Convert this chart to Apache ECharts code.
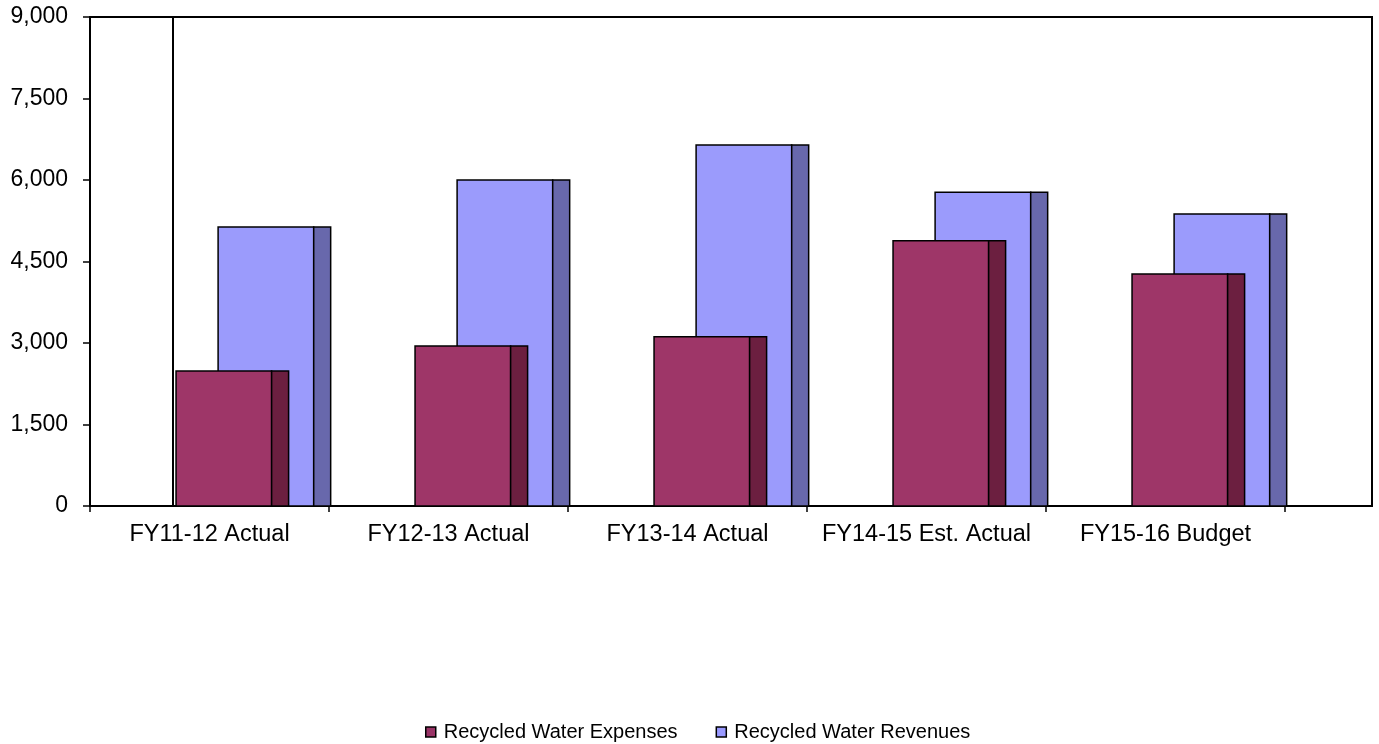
<!DOCTYPE html>
<html>
<head>
<meta charset="utf-8">
<script src="https://cdn.jsdelivr.net/npm/echarts@6/dist/echarts.min.js"></script>
<style>
html,body{margin:0;padding:0;background:#fff;}
#main{width:1379px;height:744px;}
</style>
</head>
<body>
<div id="main"></div>
<script>
var categories = ['FY11-12 Actual', 'FY12-13 Actual', 'FY13-14 Actual', 'FY14-15 Est. Actual', 'FY15-16 Budget'];
var expenses = [2485, 2945, 3115, 4880, 4270];
var revenues = [5135, 6000, 6645, 5775, 5375];
var yTicks = [0, 1500, 3000, 4500, 6000, 7500, 9000];
var seriesNames = ['Recycled Water Expenses', 'Recycled Water Revenues'];

var FONT = '"Liberation Sans", Arial, sans-serif';

function makeRender(offFrac, front, side) {
  return function (params, api) {
    var idx = api.value(0);
    var val = api.value(1);
    var base = api.coord([idx, 0]);
    var top = api.coord([idx, val]);
    var bw = api.size([1, 0])[0];
    var fw = 0.40 * bw, sw = 0.071 * bw;
    var x0 = base[0] + offFrac * bw;
    var h = base[1] - top[1];
    return {
      type: 'group',
      children: [
        { type: 'rect', shape: { x: x0, y: top[1], width: fw, height: h },
          style: { fill: front, stroke: '#000', lineWidth: 1.5 } },
        { type: 'rect', shape: { x: x0 + fw, y: top[1], width: sw, height: h },
          style: { fill: side, stroke: '#000', lineWidth: 1.5 } }
      ]
    };
  };
}

var chart = echarts.init(document.getElementById('main'), null, { renderer: 'canvas' });
var option = {
  animation: false,
  backgroundColor: '#fff',
  textStyle: { fontFamily: FONT },
  grid: [
    { left: 90, right: 94, top: 17, bottom: 238, containLabel: false },
    { left: 90, right: 7, top: 17, bottom: 238, show: true, borderColor: '#000', borderWidth: 2, backgroundColor: 'transparent' }
  ],
  xAxis: [
    {
      type: 'category', data: categories, gridIndex: 0,
      axisLine: { lineStyle: { color: '#000', width: 2 } },
      axisTick: { show: true, length: 6, lineStyle: { color: '#000', width: 1.5 } },
      axisLabel: { color: '#000', fontSize: 23.5, fontFamily: FONT, margin: 17, interval: 0 }
    },
    { type: 'value', gridIndex: 1, show: false }
  ],
  yAxis: [
    {
      type: 'value', gridIndex: 0, min: yTicks[0], max: yTicks[yTicks.length - 1], interval: yTicks[1] - yTicks[0],
      axisLine: { show: true, lineStyle: { color: '#000', width: 2 } },
      axisTick: { show: true, length: 7, lineStyle: { color: '#000', width: 1.5 } },
      splitLine: { show: false },
      axisLabel: { color: '#000', fontSize: 23, fontFamily: FONT, margin: 22,
        formatter: function (v) { return v.toLocaleString('en-US'); } }
    },
    { type: 'value', gridIndex: 1, show: false }
  ],
  legend: {
    data: seriesNames,
    left: 425, top: 722, padding: 0,
    icon: 'rect', itemWidth: 10, itemHeight: 10, itemGap: 38,
    textStyle: { color: '#000', fontSize: 20, fontFamily: FONT, padding: [0, 0, 0, 3] },
    itemStyle: { borderColor: '#000', borderWidth: 1.5 }
  },
  graphic: [
    { type: 'line', z: 0, shape: { x1: 173, y1: 17, x2: 173, y2: 506 }, style: { stroke: '#000', lineWidth: 2 } }
  ],
  series: [
    {
      name: seriesNames[1], type: 'custom', xAxisIndex: 0, yAxisIndex: 0, z: 2,
      itemStyle: { color: '#9999FF' },
      encode: { x: 0, y: 1 },
      data: revenues.map(function (v, i) { return [i, v]; }),
      renderItem: makeRender(0.036, '#9B9BFC', '#6868AC')
    },
    {
      name: seriesNames[0], type: 'custom', xAxisIndex: 0, yAxisIndex: 0, z: 3,
      itemStyle: { color: '#993366' },
      encode: { x: 0, y: 1 },
      data: expenses.map(function (v, i) { return [i, v]; }),
      renderItem: makeRender(-0.14, '#9E3668', '#6C1F40')
    }
  ]
};
chart.setOption(option);
</script>
</body>
</html>
